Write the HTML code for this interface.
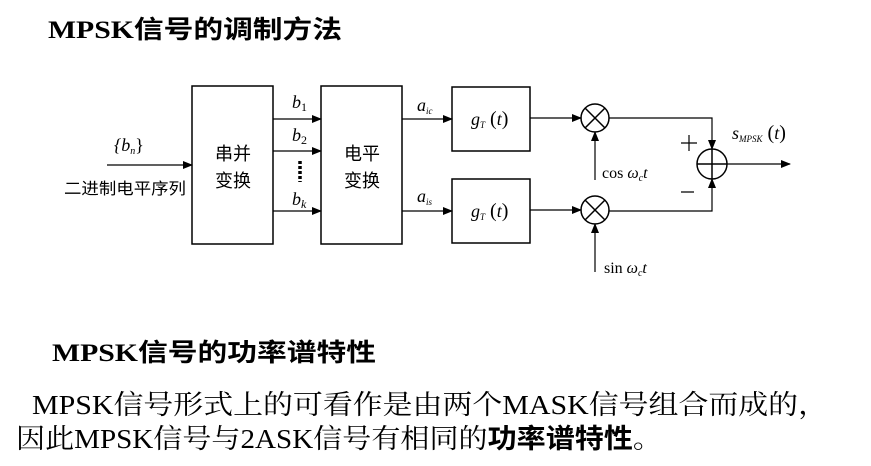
<!DOCTYPE html>
<html><head><meta charset="utf-8"><style>
html,body{margin:0;padding:0;background:#fff;}
svg{display:block;}
.s{font-family:"Liberation Serif","Noto Serif CJK SC",serif;}
.c{font-family:"Liberation Serif","Noto Sans CJK SC",sans-serif;}
</style></head><body>
<svg width="871" height="466" viewBox="0 0 871 466" xmlns="http://www.w3.org/2000/svg">
<defs><marker id="a" markerWidth="10" markerHeight="8" refX="9" refY="4" orient="auto" markerUnits="userSpaceOnUse"><path d="M0,0 L10,4 L0,8 z" fill="#000"/></marker></defs>
<text x="48" y="38" class="c" font-size="25" font-weight="bold" textLength="294" lengthAdjust="spacingAndGlyphs">MPSK信号的调制方法</text>
<g stroke="#000" stroke-width="1.5" fill="none">
<rect x="192" y="86" width="81" height="158"/>
<rect x="321" y="86" width="81" height="158"/>
<rect x="452" y="87" width="78" height="64"/>
<rect x="452" y="179" width="78" height="64"/>
<circle cx="595" cy="118" r="14"/><circle cx="595" cy="210" r="14"/>
<path d="M585,108 L605,128 M605,108 L585,128 M585,200 L605,220 M605,200 L585,220"/>
<circle cx="712" cy="164" r="15"/>
<path d="M697,164 H727 M712,149 V179"/>
</g>
<g stroke="#000" stroke-width="1.2" fill="none" marker-end="url(#a)">
<path d="M107,165 H192"/>
<path d="M273,119 H321"/><path d="M273,151 H321"/><path d="M273,211 H321"/>
<path d="M402,119 H452"/><path d="M402,211 H452"/>
<path d="M530,118 H581"/><path d="M530,210 H581"/>
<path d="M595,180 V132"/><path d="M595,272 V224"/>
<path d="M609,118 H712 V149"/><path d="M609,211 H712 V179"/>
<path d="M727,164 H790"/>
</g>
<path d="M300,161 V182" stroke="#000" stroke-width="3.5" stroke-dasharray="3,2"/>
<g class="s" font-style="italic" font-size="18">
<text x="114" y="151">{<tspan>b</tspan><tspan font-size="10" dy="3">n</tspan><tspan dy="-3" font-style="normal">}</tspan></text>
<text x="292" y="108">b<tspan font-size="12" font-style="normal" dy="3">1</tspan></text>
<text x="292" y="141">b<tspan font-size="12" font-style="normal" dy="3">2</tspan></text>
<text x="292" y="205">b<tspan font-size="12" dy="3">k</tspan></text>
<text x="417" y="111">a<tspan font-size="9" dy="3">ic</tspan></text>
<text x="417" y="202">a<tspan font-size="9" dy="3">is</tspan></text>
<text x="471" y="125">g<tspan font-size="9" dy="3">T</tspan><tspan dy="-3" font-style="normal" font-size="20"> (</tspan>t<tspan font-style="normal" font-size="20">)</tspan></text>
<text x="471" y="217">g<tspan font-size="9" dy="3">T</tspan><tspan dy="-3" font-style="normal" font-size="20"> (</tspan>t<tspan font-style="normal" font-size="20">)</tspan></text>
<text x="602" y="178" font-size="16"><tspan font-style="normal">cos </tspan>ω<tspan font-size="10" dy="3">c</tspan><tspan dy="-3">t</tspan></text>
<text x="604" y="273" font-size="16"><tspan font-style="normal">sin </tspan>ω<tspan font-size="10" dy="3">c</tspan><tspan dy="-3">t</tspan></text>
<text x="732" y="139">s<tspan font-size="9" dy="3">MPSK</tspan><tspan dy="-3" font-style="normal" font-size="20"> (</tspan>t<tspan font-style="normal" font-size="20">)</tspan></text>
</g>
<g stroke="#000" stroke-width="1.2"><path d="M681,143 H697 M689,135 V151 M681,192 H694"/></g>
<g class="c" font-size="18">
<text x="64" y="194" font-size="16" textLength="122" lengthAdjust="spacingAndGlyphs">二进制电平序列</text>
<text x="215" y="160">串并</text><text x="215" y="187">变换</text>
<text x="344" y="160">电平</text><text x="344" y="187">变换</text>
</g>
<text x="52" y="361" class="c" font-size="25" font-weight="bold" textLength="324" lengthAdjust="spacingAndGlyphs">MPSK信号的功率谱特性</text>
<text x="32" y="414" class="s" font-size="27" textLength="796" lengthAdjust="spacingAndGlyphs">MPSK信号形式上的可看作是由两个MASK信号组合而成的，</text>
<text x="16" y="448" class="s" font-size="27" textLength="646" lengthAdjust="spacingAndGlyphs">因此MPSK信号与2ASK信号有相同的<tspan font-weight="bold" font-family="Noto Sans CJK SC">功率谱特性</tspan>。</text>
</svg>
</body></html>
